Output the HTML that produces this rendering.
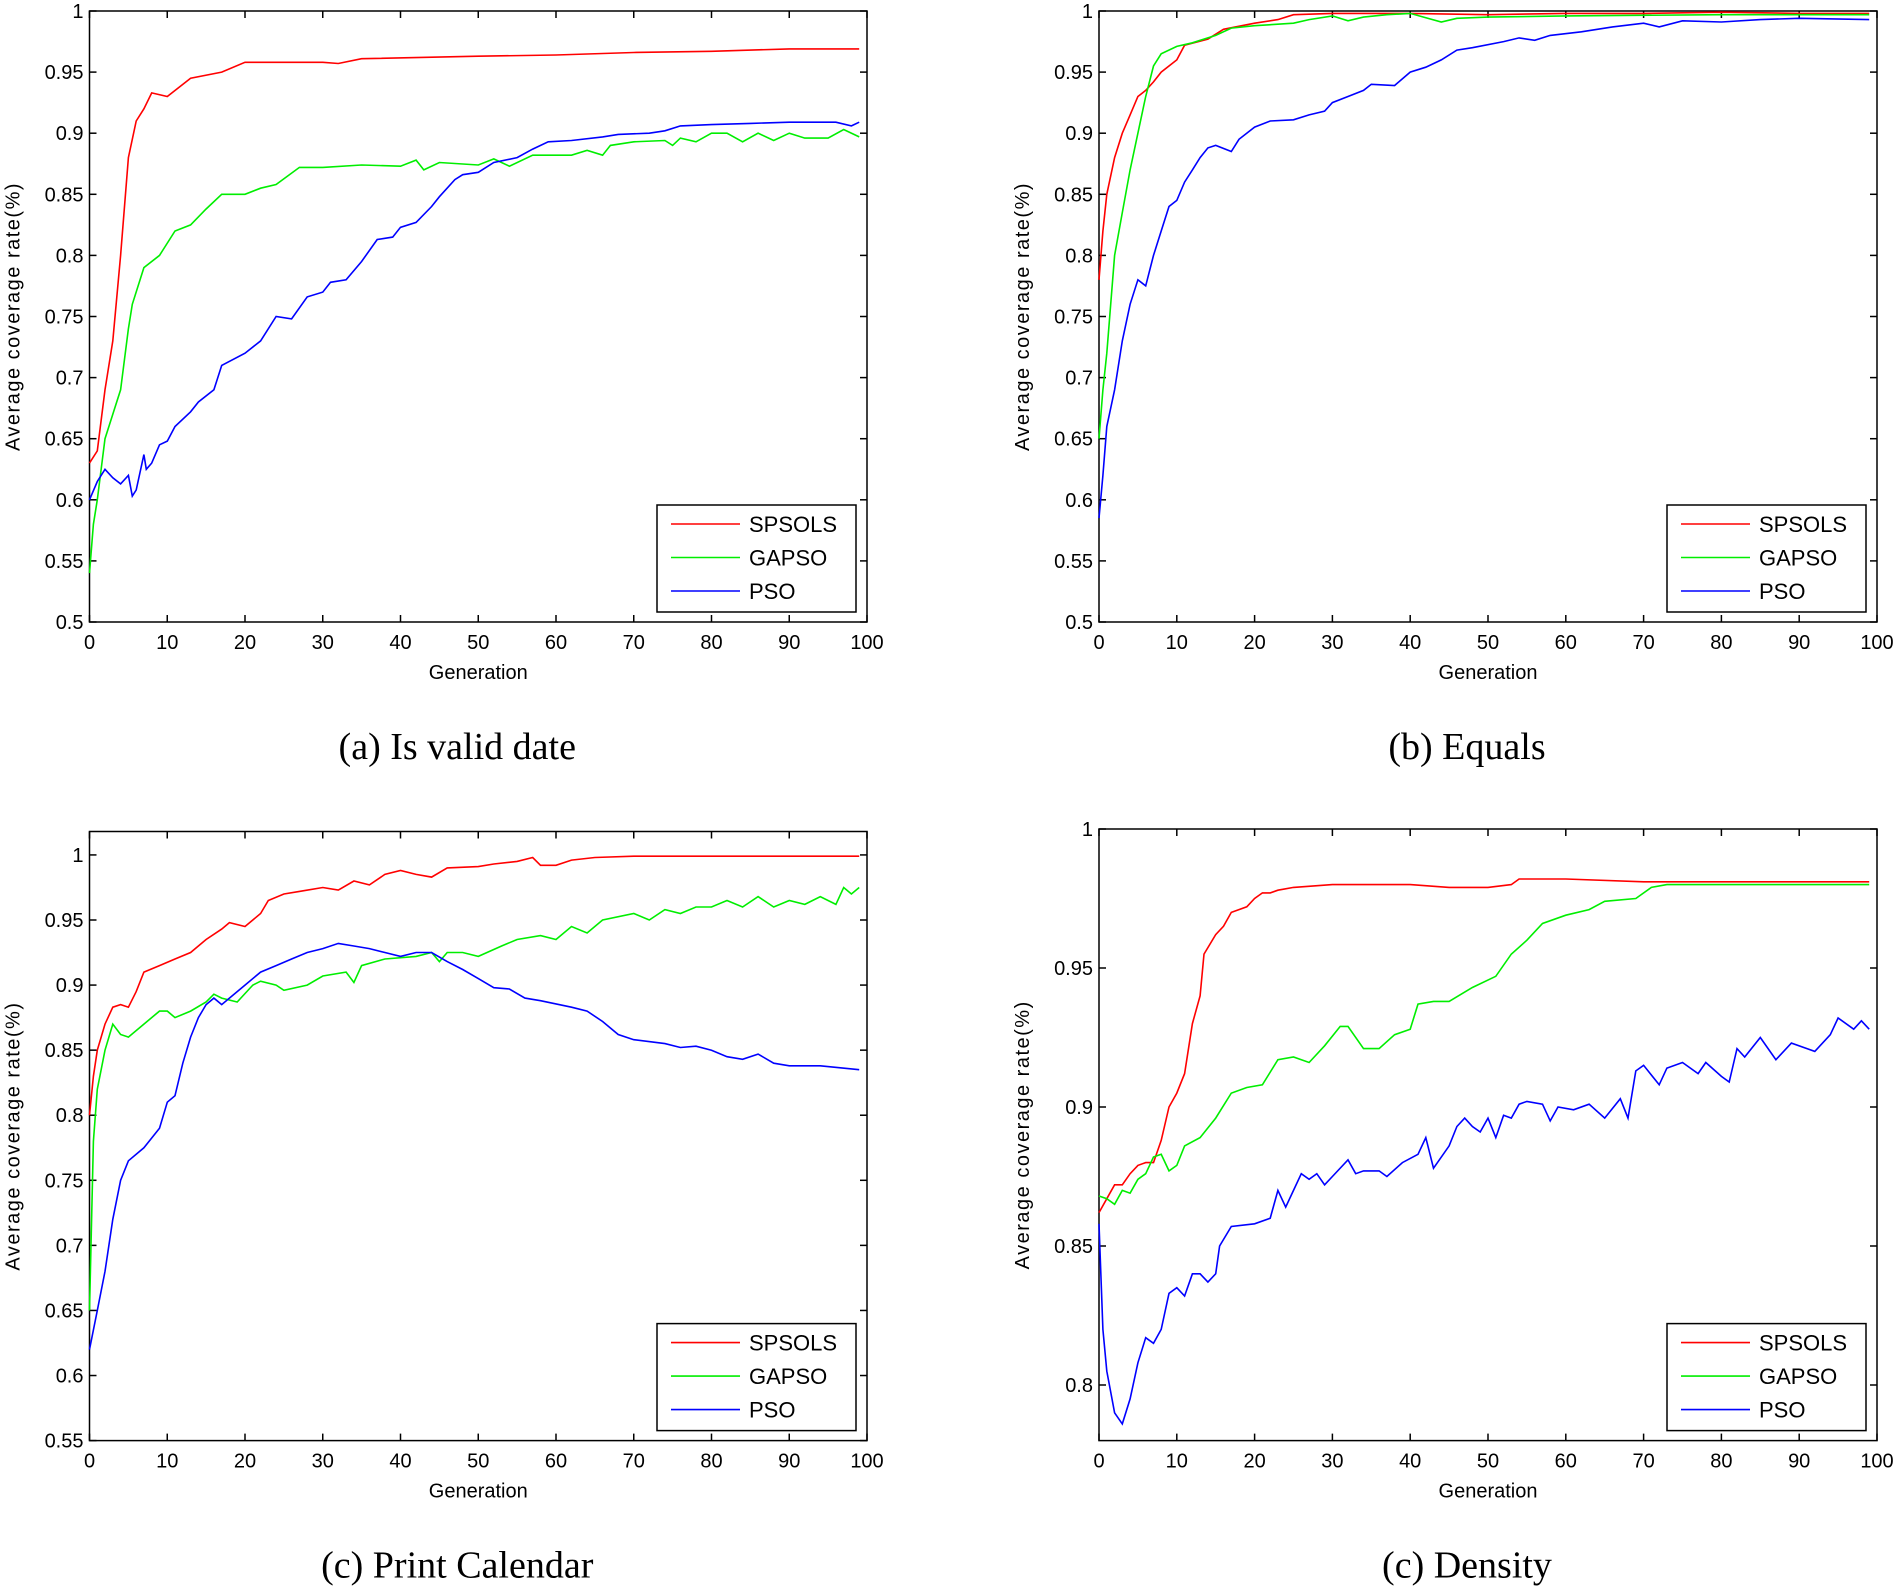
<!DOCTYPE html>
<html><head><meta charset="utf-8"><style>
body{margin:0;background:#fff;width:1895px;height:1588px;overflow:hidden}
svg{display:block}
text{font-family:"Liberation Sans",sans-serif}
</style></head><body>
<svg id="fig" width="1895" height="1588" viewBox="0 0 1895 1588" xmlns="http://www.w3.org/2000/svg"></svg>
<script>
const generationsA_S=[0,1,2,3,4,5,6,7,8,10,13,17,20,30,32,35,50,60,70,80,90,99];
const valuesA_S=[.63,.64,.69,.73,.80,.88,.91,.92,.933,.93,.945,.95,.958,.958,.957,.961,.963,.964,.966,.967,.969,.969];
const generationsA_G=[0,0.5,1,2,3,4,5,5.5,7,9,11,13,15,17,20,22,24,27,30,35,40,42,43,45,50,52,54,57,62,64,66,67,70,74,75,76,78,80,82,84,86,88,90,92,95,97,99];
const valuesA_G=[.54,.58,.6,.65,.67,.69,.74,.76,.79,.8,.82,.825,.838,.85,.85,.855,.858,.872,.872,.874,.873,.878,.87,.876,.874,.879,.873,.882,.882,.886,.882,.89,.893,.894,.89,.896,.893,.9,.9,.893,.9,.894,.9,.896,.896,.903,.897];
const generationsA_P=[0,1,2,3,4,5,5.5,6,7,7.3,8,9,10,11,13,14,16,17,20,22,24,26,28,30,31,33,35,37,39,40,42,44,45,47,48,50,52,55,57,59,62,66,68,72,74,76,80,85,90,96,98,99];
const valuesA_P=[.6,.615,.625,.618,.613,.62,.603,.608,.637,.625,.63,.645,.648,.66,.672,.68,.69,.71,.72,.73,.75,.748,.766,.77,.778,.78,.795,.813,.815,.823,.827,.84,.848,.862,.866,.868,.876,.88,.887,.893,.894,.897,.899,.9,.902,.906,.907,.908,.909,.909,.906,.909];

const generationsB_S=[0,0.5,1,2,3,4,5,6,7,8,10,11,14,16,20,23,25,30,40,50,60,70,80,90,99];
const valuesB_S=[.78,.82,.85,.88,.9,.915,.93,.935,.942,.95,.96,.972,.977,.985,.99,.993,.997,.998,.998,.997,.998,.998,.999,.998,.998];
const generationsB_G=[0,0.5,1,2,3,4,5,6,7,8,10,12,15,17,20,25,27,30,32,34,37,40,44,46,50,60,80,99];
const valuesB_G=[.65,.69,.72,.8,.835,.87,.9,.93,.955,.965,.971,.974,.98,.986,.988,.99,.993,.996,.992,.995,.997,.998,.991,.994,.995,.996,.997,.997];
const generationsB_P=[0,0.5,1,2,3,4,5,6,7,8,9,10,11,12,13,14,15,17,18,20,22,25,27,29,30,32,34,35,38,40,42,44,46,48,52,54,56,58,62,66,70,72,75,80,85,90,99];
const valuesB_P=[.585,.62,.66,.69,.73,.76,.78,.775,.8,.82,.84,.845,.86,.87,.88,.888,.89,.885,.895,.905,.91,.911,.915,.918,.925,.93,.935,.94,.939,.95,.954,.96,.968,.97,.975,.978,.976,.98,.983,.987,.99,.987,.992,.991,.993,.994,.993];

const generationsC_S=[0,0.5,1,2,3,4,5,6,7,9,11,13,15,17,18,20,22,23,25,27,30,32,34,36,38,40,42,44,46,50,52,55,57,58,60,62,65,70,80,99];
const valuesC_S=[.8,.83,.85,.87,.883,.885,.883,.895,.91,.915,.92,.925,.935,.943,.948,.945,.955,.965,.97,.972,.975,.973,.98,.977,.985,.988,.985,.983,.99,.991,.993,.995,.998,.992,.992,.996,.998,.999,.999,.999];
const generationsC_G=[0,0.5,1,2,3,4,5,7,9,10,11,13,15,16,17,19,21,22,24,25,28,30,33,34,35,38,42,44,45,46,48,50,53,55,58,60,62,64,66,70,72,74,76,78,80,82,84,86,88,90,92,94,96,97,98,99];
const valuesC_G=[.65,.78,.82,.85,.87,.862,.86,.87,.88,.88,.875,.88,.887,.893,.89,.887,.9,.903,.9,.896,.9,.907,.91,.902,.915,.92,.922,.925,.918,.925,.925,.922,.93,.935,.938,.935,.945,.94,.95,.955,.95,.958,.955,.96,.96,.965,.96,.968,.96,.965,.962,.968,.962,.975,.97,.975];
const generationsC_P=[0,1,2,3,4,5,7,9,10,11,12,13,14,15,16,17,19,20,22,24,26,28,30,32,34,36,38,40,42,44,46,48,50,52,54,56,58,62,64,66,68,70,74,76,78,80,82,84,86,88,90,94,99];
const valuesC_P=[.62,.65,.68,.72,.75,.765,.775,.79,.81,.815,.84,.86,.875,.885,.89,.885,.895,.9,.91,.915,.92,.925,.928,.932,.93,.928,.925,.922,.925,.925,.918,.912,.905,.898,.897,.89,.888,.883,.88,.872,.862,.858,.855,.852,.853,.85,.845,.843,.847,.84,.838,.838,.835];

const generationsD_S=[0,1,2,3,4,5,6,7,8,9,10,11,12,13,13.5,15,16,17,19,20,21,22,23,25,30,40,45,50,53,54,60,70,99];
const valuesD_S=[.862,.867,.872,.872,.876,.879,.88,.88,.888,.9,.905,.912,.93,.94,.955,.962,.965,.97,.972,.975,.977,.977,.978,.979,.98,.98,.979,.979,.98,.982,.982,.981,.981];
const generationsD_G=[0,1,2,3,4,5,6,7,8,9,10,11,13,15,17,19,21,23,25,27,29,31,32,34,36,38,40,41,43,45,48,51,53,55,57,60,63,65,69,71,73,99];
const valuesD_G=[.868,.867,.865,.87,.869,.874,.876,.882,.883,.877,.879,.886,.889,.896,.905,.907,.908,.917,.918,.916,.922,.929,.929,.921,.921,.926,.928,.937,.938,.938,.943,.947,.955,.96,.966,.969,.971,.974,.975,.979,.98,.98];
const generationsD_P=[0,0.5,1,2,3,4,5,6,7,8,9,10,11,12,13,14,15,15.5,17,20,22,23,24,25,26,27,28,29,30,32,33,34,36,37,39,41,42,43,45,46,47,48,49,50,51,52,53,54,55,57,58,59,61,63,65,67,68,69,70,72,73,75,77,78,80,81,82,83,85,87,89,91,92,94,95,97,98,99];
const valuesD_P=[.858,.82,.805,.79,.786,.795,.808,.817,.815,.82,.833,.835,.832,.84,.84,.837,.84,.85,.857,.858,.86,.87,.864,.87,.876,.874,.876,.872,.875,.881,.876,.877,.877,.875,.88,.883,.889,.878,.886,.893,.896,.893,.891,.896,.889,.897,.896,.901,.902,.901,.895,.9,.899,.901,.896,.903,.896,.913,.915,.908,.914,.916,.912,.916,.911,.909,.921,.918,.925,.917,.923,.921,.92,.926,.932,.928,.931,.928];

const yTicksA=[0.5,0.55,0.6,0.65,0.7,0.75,0.8,0.85,0.9,0.95,1];
const yTicksC=[0.55,0.6,0.65,0.7,0.75,0.8,0.85,0.9,0.95,1];
const yTicksD=[0.8,0.85,0.9,0.95,1];
const yTickLabelsA=['0.5','0.55','0.6','0.65','0.7','0.75','0.8','0.85','0.9','0.95','1'];
const yTickLabelsC=['0.55','0.6','0.65','0.7','0.75','0.8','0.85','0.9','0.95','1'];
const yTickLabelsD=['0.8','0.85','0.9','0.95','1'];
const xTicks=[0,10,20,30,40,50,60,70,80,90,100];
const seriesNames=['SPSOLS','GAPSO','PSO'];
const seriesColors=['#ff0000','#00ee00','#0000ff'];

const NS='http://www.w3.org/2000/svg';
const svg=document.getElementById('fig');
function mk(tag,attrs,parent){const e=document.createElementNS(NS,tag);for(const k in attrs)e.setAttribute(k,attrs[k]);(parent||svg).appendChild(e);return e;}

function panel(id,L,R,T,B,ymin,ymax,yt,ytl,series,caption){
  const g=mk('g',{});
  
  
  const sx=v=>L+(v/100)*(R-L);
  const sy=v=>B-(v-ymin)/(ymax-ymin)*(B-T);
  mk('rect',{x:L,y:T,width:R-L,height:B-T,fill:'#fff',stroke:'#000','stroke-width':1.5},g);
  xTicks.forEach(t=>{
    const x=sx(t);
    mk('line',{x1:x,y1:B,x2:x,y2:B-7,stroke:'#000','stroke-width':1.5},g);
    mk('line',{x1:x,y1:T,x2:x,y2:T+7,stroke:'#000','stroke-width':1.5},g);
    const tx=mk('text',{x:x,y:B+27,'font-size':20,'text-anchor':'middle',fill:'#000'},g);
    tx.textContent=t;
    
    
  });
  yt.forEach((t,i)=>{
    const y=sy(t);
    mk('line',{x1:L,y1:y,x2:L+7,y2:y,stroke:'#000','stroke-width':1.5},g);
    mk('line',{x1:R,y1:y,x2:R-7,y2:y,stroke:'#000','stroke-width':1.5},g);
    const tx=mk('text',{x:L-6,y:y+7,'font-size':20,'text-anchor':'end',fill:'#000'},g);
    tx.textContent=ytl[i];
    
    
  });
  series.forEach((s,i)=>{
    const pts=s[0].map((gx,j)=>sx(gx).toFixed(1)+','+sy(s[1][j]).toFixed(1)).join(' ');
    const pl=mk('polyline',{points:pts,fill:'none',stroke:seriesColors[i],'stroke-width':1.6},g);
    
    
  });
  const xt=mk('text',{x:(L+R)/2,y:B+57,'font-size':20,'text-anchor':'middle',fill:'#000'},g);
  xt.textContent='Generation';
  
  
  const yx=L-70, yy=(T+B)/2;
  const ytt=mk('text',{x:yx,y:yy,'font-size':20,'text-anchor':'middle',fill:'#000',style:'letter-spacing:1.5px',transform:'rotate(-90 '+yx+' '+yy+')'},g);
  ytt.textContent='Average coverage rate(%)';
  
  
  const lg=mk('g',{},g);
  
  
  const lx=R-210, ly=B-117;
  mk('rect',{x:lx,y:ly,width:199,height:107,fill:'#fff',stroke:'#000','stroke-width':1.5},lg);
  seriesNames.forEach((n,i)=>{
    const yy2=ly+19+i*33.5;
    mk('line',{x1:lx+14,y1:yy2,x2:lx+83,y2:yy2,stroke:seriesColors[i],'stroke-width':1.6},lg);
    const t=mk('text',{x:lx+92,y:yy2+8,'font-size':22,fill:'#000'},lg);
    t.textContent=n;
    
    
  });
  const cap=mk('text',{x:(L+R)/2-21,y:B+137,'text-anchor':'middle',fill:'#000',style:'font-family:"Liberation Serif",serif;font-size:38px'},g);
  cap.textContent=caption;
  
  
}
panel('a',89.5,867,11,622,0.5,1,yTicksA,yTickLabelsA,[[generationsA_S,valuesA_S],[generationsA_G,valuesA_G],[generationsA_P,valuesA_P]],'(a) Is valid date');
panel('b',1099,1877,11,622,0.5,1,yTicksA,yTickLabelsA,[[generationsB_S,valuesB_S],[generationsB_G,valuesB_G],[generationsB_P,valuesB_P]],'(b) Equals');
panel('c',89.5,867,831.5,1440.6,0.55,1.018,yTicksC,yTickLabelsC,[[generationsC_S,valuesC_S],[generationsC_G,valuesC_G],[generationsC_P,valuesC_P]],'(c) Print Calendar');
panel('d',1099,1877,829,1440.6,0.78,1,yTicksD,yTickLabelsD,[[generationsD_S,valuesD_S],[generationsD_G,valuesD_G],[generationsD_P,valuesD_P]],'(c) Density');
</script>
</body></html>
